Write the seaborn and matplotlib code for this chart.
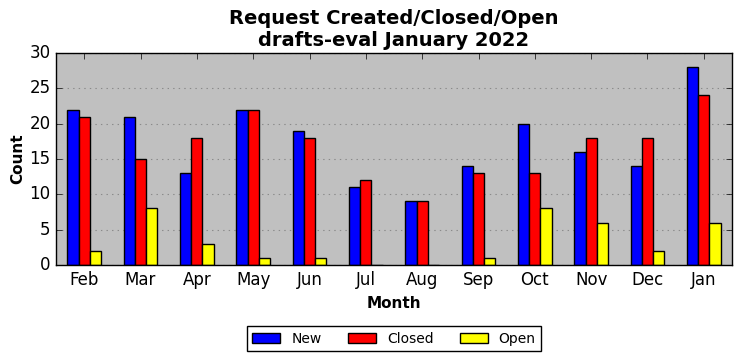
import matplotlib
matplotlib.use("Agg")
import matplotlib.pyplot as plt
import seaborn as sns
import pandas as pd

months = ["Feb", "Mar", "Apr", "May", "Jun", "Jul", "Aug", "Sep", "Oct", "Nov", "Dec", "Jan"]
new_vals = [22, 21, 13, 22, 19, 11, 9, 14, 20, 16, 14, 28]
closed_vals = [21, 15, 18, 22, 18, 12, 9, 13, 13, 18, 18, 24]
open_vals = [2, 8, 3, 1, 1, 0, 0, 1, 8, 6, 2, 6]
series = ["New", "Closed", "Open"]
colors = ["#0000ff", "#ff0000", "#ffff00"]

rows = []
for name, vals in zip(series, [new_vals, closed_vals, open_vals]):
    for m, v in zip(months, vals):
        rows.append({"Month": m, "Count": v, "Status": name})
df = pd.DataFrame(rows)

plt.style.use("classic")
plt.rcParams["figure.facecolor"] = "white"
plt.rcParams["savefig.facecolor"] = "white"
plt.rcParams["font.family"] = ["DejaVu Sans"]

fig = plt.figure(figsize=(7.42, 3.61), dpi=100)
ax = fig.add_axes([56 / 742, 1 - 265 / 361, (732 - 56) / 742, (265 - 53) / 361])
ax.set_facecolor("#c0c0c0")

sns.barplot(data=df, x="Month", y="Count", hue="Status", order=months,
            hue_order=series, palette=colors, width=0.6, gap=0,
            edgecolor="black", linewidth=1, saturation=1, errorbar=None, ax=ax)

ax.set_xlim(-0.5, 11.5)
ax.set_ylim(0, 30)
ax.set_yticks([0, 5, 10, 15, 20, 25, 30])
ax.yaxis.grid(True, linestyle=":", color="#8a8a8a", linewidth=0.8)
ax.xaxis.grid(False)
ax.set_axisbelow(True)
ax.tick_params(labelsize=12)
ax.set_xlabel("Month", fontsize=11, fontweight="bold")
ax.set_ylabel("Count", fontsize=11, fontweight="bold", labelpad=3)
ax.set_title("Request Created/Closed/Open\ndrafts-eval January 2022",
             fontsize=14, fontweight="bold")

ax.legend(loc="upper center", bbox_to_anchor=(0.5, -0.255), ncol=3,
          frameon=True, fancybox=False, edgecolor="black", fontsize=10,
          handlelength=2, handletextpad=0.8, columnspacing=1.9)

fig.savefig("out.png", dpi=100)
